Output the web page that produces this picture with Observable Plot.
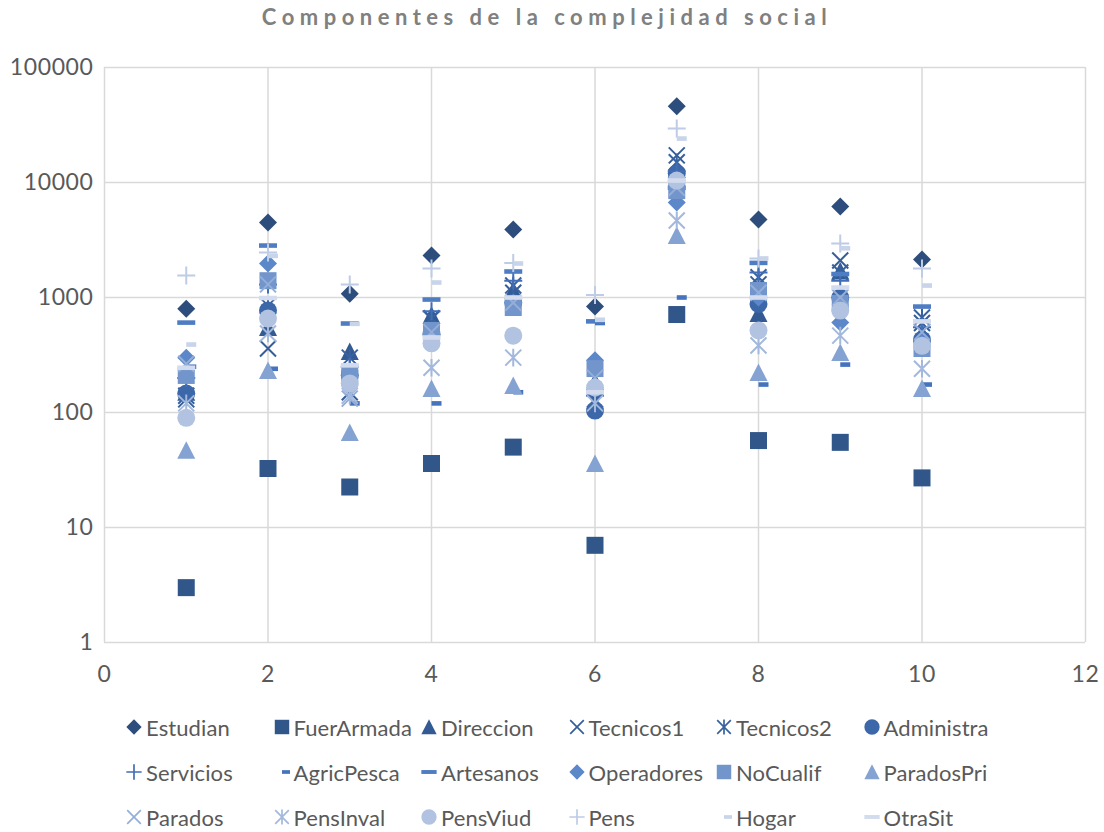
<!DOCTYPE html>
<html><head><meta charset="utf-8">
<script src="https://cdn.jsdelivr.net/npm/d3@7"></script>
<script src="https://cdn.jsdelivr.net/npm/@observablehq/plot@0.6"></script>
<style>
body{margin:0;background:#fff;font-family:Lato,"Open Sans",sans-serif;}
#wrap{position:relative;width:1104px;height:832px;overflow:hidden;}
#title{position:absolute;left:-5px;top:3px;width:1104px;text-align:center;font-size:22px;font-weight:bold;color:#808080;letter-spacing:5.5px;}
#chart{position:absolute;left:0;top:40px;}
.li{position:absolute;height:24px;display:flex;align-items:center;font-size:22px;letter-spacing:0.1px;color:#595959;white-space:nowrap;}
.li svg{position:absolute;}
</style></head><body>
<div id="wrap">
<div id="title">Componentes de la complejidad social</div>
<div id="chart"></div>
<div id="legend"></div>
</div>
<script>
// ---- data ----
const xValues = [1, 2, 3, 4, 5, 6, 7, 8, 9, 10];
const seriesNames = ["Estudian","FuerArmada","Direccion","Tecnicos1","Tecnicos2","Administra","Servicios","AgricPesca","Artesanos","Operadores","NoCualif","ParadosPri","Parados","PensInval","PensViud","Pens","Hogar","OtraSit"];
const Estudian   = [800, 4500, 1080, 2320, 3900, 834, 46000, 4770, 6190, 2140];
const FuerArmada = [3, 32.6, 22.5, 36, 50, 7, 711, 57, 55, 27];
const Direccion  = [150, 550, 340, 700, 1150, 185, 13000, 727, 1700, 490];
const Tecnicos1  = [130, 360, 150, 650, 1100, 130, 17200, 1300, 2100, 600];
const Tecnicos2  = [140, 850, 300, 660, 1270, 125, 15000, 1500, 1650, 670];
const Administra = [146, 770, 210, 480, 900, 104, 12000, 880, 1000, 430];
const Servicios  = [200, 1300, 250, 760, 1400, 140, 12500, 1650, 1400, 550];
const AgricPesca = [250, 240, 120, 120, 150, 600, 1000, 175, 261, 175];
const Artesanos  = [605, 2830, 594, 960, 1683, 620, 9000, 2000, 1600, 834];
const Operadores = [300, 1975, 230, 480, 900, 285, 6700, 1000, 605, 420];
const NoCualif   = [210, 1400, 218, 517, 818, 241, 8500, 1150, 890, 360];
const ParadosPri = [47, 232, 67, 162, 172, 36, 3460, 223, 333, 162];
const Parados    = [265, 1300, 132, 500, 900, 200, 9000, 1100, 1000, 500];
const PensInval  = [120, 486, 140, 245, 300, 120, 4680, 383, 466, 240];
const PensViud   = [90, 656, 179, 400, 466, 165, 10400, 517, 770, 380];
const Pens       = [1550, 2460, 1300, 1786, 2000, 1050, 29500, 2185, 2950, 1790];
const Hogar      = [390, 2300, 590, 1350, 1975, 640, 24100, 2185, 2680, 1270];
const OtraSit    = [245, 990, 257, 449, 1000, 150, 10400, 1000, 1220, 620];
const yTicks = [1, 10, 100, 1000, 10000, 100000];
const xTicks = [0, 2, 4, 6, 8, 10, 12];
const seriesValues = [Estudian,FuerArmada,Direccion,Tecnicos1,Tecnicos2,Administra,Servicios,AgricPesca,Artesanos,Operadores,NoCualif,ParadosPri,Parados,PensInval,PensViud,Pens,Hogar,OtraSit];

// ---- styling ----
const colors = ["#2D4D7C","#31568A","#335A92","#355E98","#38629F","#3C67A8","#416EB6","#4573BD","#4F7DC3","#5C87C8","#7295CC","#85A3D2","#94AED8","#A2B8DC","#B1C3E1","#BECCE6","#C8D4EA","#D2DCEE"];
const kinds = ["diamond","square","triangle","x","asterisk","circle","plus","shortdash","longdash","diamond","square","triangle","x","asterisk","circle","plus","shortdash","longdash"];
const strokeKinds = new Set(["x","asterisk","plus"]);

function makeSymbol(kind, k) {
  return {draw(ctx) {
    const r = 9 * k;
    switch (kind) {
      case "diamond": ctx.moveTo(0,-r); ctx.lineTo(r,0); ctx.lineTo(0,r); ctx.lineTo(-r,0); ctx.closePath(); break;
      case "square": { const s = 8.5*k; ctx.rect(-s,-s,2*s,2*s); break; }
      case "triangle": ctx.moveTo(0,-r); ctx.lineTo(r,r*0.95); ctx.lineTo(-r,r*0.95); ctx.closePath(); break;
      case "circle": ctx.moveTo(r,0); ctx.arc(0,0,r,0,2*Math.PI); break;
      case "x": { const s = 8*k; ctx.moveTo(-s,-s); ctx.lineTo(s,s); ctx.moveTo(s,-s); ctx.lineTo(-s,s); break; }
      case "asterisk": { const s = 8*k; ctx.moveTo(-s,-s); ctx.lineTo(s,s); ctx.moveTo(s,-s); ctx.lineTo(-s,s); ctx.moveTo(0,-s*1.1); ctx.lineTo(0,s*1.1); break; }
      case "plus": ctx.moveTo(-r,0); ctx.lineTo(r,0); ctx.moveTo(0,-r); ctx.lineTo(0,r); break;
      case "shortdash": ctx.rect(0,-2.3*k,10*k,4.6*k); break;
      case "longdash": ctx.rect(-9*k,-2.3*k,18*k,4.6*k); break;
    }
  }};
}

const marks = [
  Plot.gridY(yTicks, {stroke:"#d9d9d9", strokeOpacity:1, strokeWidth:1.5}),
  Plot.gridX(xTicks, {stroke:"#d9d9d9", strokeOpacity:1, strokeWidth:1.5}),
  Plot.axisY(yTicks, {tickSize:0, tickPadding:11, tickFormat: d => String(d), fontSize:23, label:null}),
  Plot.axisX(xTicks, {tickSize:0, tickPadding:23, fontSize:23, label:null})
];
seriesNames.forEach((name, i) => {
  const data = xValues.map((x, j) => ({x, y: seriesValues[i][j], s: name}));
  const isStroke = strokeKinds.has(kinds[i]);
  marks.push(Plot.dot(data, {
    x: "x", y: "y", r: 9,
    symbol: makeSymbol(kinds[i], 1),
    fill: isStroke ? "none" : colors[i],
    stroke: isStroke ? colors[i] : "none",
    strokeWidth: isStroke ? 2 : 0
  }));
});

const chart = Plot.plot({
  width: 1104, height: 647,
  marginLeft: 104, marginRight: 19, marginTop: 27, marginBottom: 45,
  style: {fontFamily: "Lato, 'Open Sans', sans-serif", color: "#595959", background: "#fff", overflow: "visible", letterSpacing: "0.6px"},
  x: {domain: [0, 12], label: null},
  y: {type: "log", domain: [1, 100000], label: null},
  marks
});
document.getElementById("chart").appendChild(chart);

// ---- legend ----
const legendRowsY = [727, 772, 817];
const legendColX = [134, 281.5, 429, 576.5, 724, 871.5];
const leg = document.getElementById("legend");
seriesNames.forEach((name, i) => {
  const row = Math.floor(i / 6), col = i % 6;
  const cy = legendRowsY[row];
  const mx = legendColX[col], tx = mx + 12;
  const k = 0.85;
  const isStroke = strokeKinds.has(kinds[i]);
  const svg = d3.create("svg").attr("width", 24).attr("height", 24)
    .style("position","absolute").style("left",(mx-12)+"px").style("top",(cy-12)+"px");
  const p = d3.path();
  makeSymbol(kinds[i], kinds[i] === "shortdash" ? 0.8 : k).draw(p);
  svg.append("path").attr("transform","translate(12,12)").attr("d", p.toString())
    .attr("fill", isStroke ? "none" : colors[i]).attr("stroke", isStroke ? colors[i] : "none").attr("stroke-width", 1.7);
  leg.appendChild(svg.node());
  const t = document.createElement("div");
  t.className = "li"; t.textContent = name;
  t.style.left = tx + "px"; t.style.top = (cy - 12) + "px";
  leg.appendChild(t);
});
</script>
</body></html>
